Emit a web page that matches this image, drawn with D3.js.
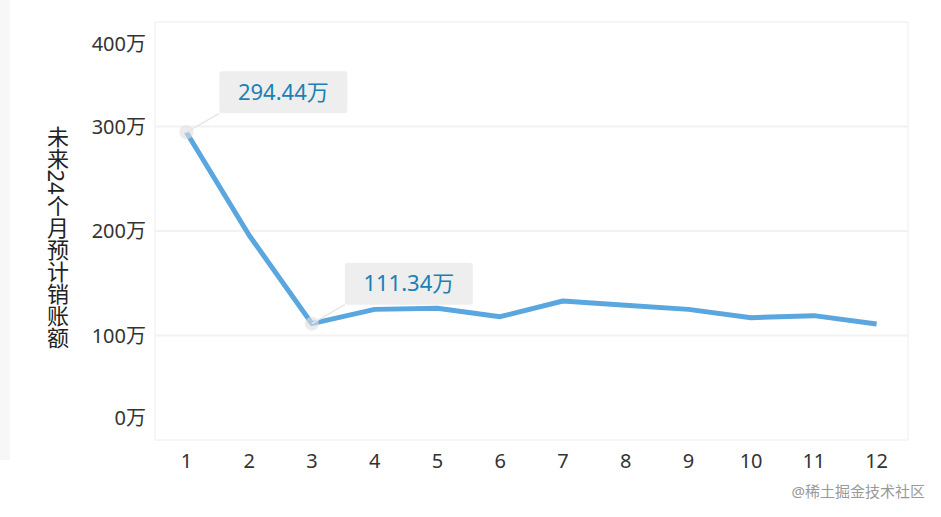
<!DOCTYPE html>
<html><head><meta charset="utf-8">
<script src="https://cdn.jsdelivr.net/npm/d3@7"></script>
<style>body{margin:0;background:#fff}svg{font-family:"Noto Sans","Noto Sans CJK SC",sans-serif}</style>
</head><body><svg id="c" width="941" height="517"></svg>
<script>
const categories = ["1","2","3","4","5","6","7","8","9","10","11","12"];
const values = [294.44,196,111.34,125,126,118,133,129,125,117,119,111];
const yTicks = [0,100,200,300,400];
const labeled = [0,2];
const svg = d3.select("#c");
const L=155,R=908,T=22,B=440;
const x = d3.scaleBand().domain(categories).range([L,R]);
const y = d3.scaleLinear().domain([0,400]).range([B,T]);
svg.append("rect").attr("x",0).attr("y",0).attr("width",10).attr("height",460).attr("fill","#f7f7f7");
svg.append("rect").attr("x",L).attr("y",T).attr("width",R-L).attr("height",B-T).attr("fill","none").attr("stroke","#eeeeee");
yTicks.slice(1,-1).forEach(t=>svg.append("line").attr("x1",L).attr("x2",R).attr("y1",y(t)).attr("y2",y(t)).attr("stroke","#f2f2f2").attr("stroke-width",2));
yTicks.forEach(t=>{
  let yy=y(t); if(t===0) yy-=22; if(t===400) yy+=22;
  svg.append("text").attr("x",146).attr("y",yy).attr("dy","0.35em").attr("text-anchor","end").attr("font-size",20).attr("fill","#333").text(t+"万");
});
categories.forEach(c=>svg.append("text").attr("x",x(c)+x.bandwidth()/2).attr("y",461).attr("dy","0.35em").attr("text-anchor","middle").attr("font-size",20).attr("fill","#333").text(c));
svg.append("text").attr("transform","translate(57,237)").attr("text-anchor","middle").style("writing-mode","vertical-rl").attr("font-size",22).attr("fill","#222").text("未来24个月预计销账额");
const cx = i=>x(categories[i])+x.bandwidth()/2;
svg.append("path").datum(values).attr("d",d3.line().x((d,i)=>cx(i)).y(d=>y(d))).attr("fill","none").attr("stroke","#5aa7e0").attr("stroke-width",5).attr("stroke-linejoin","round");
labeled.forEach(i=>{
  const px=cx(i),py=y(values[i]);
  svg.append("circle").attr("cx",px).attr("cy",py).attr("r",7).attr("fill","#ddd").attr("opacity",0.6);
  const bx=px+33,by=py-61;
  svg.append("line").attr("x1",px).attr("y1",py).attr("x2",bx).attr("y2",by+42).attr("stroke","#e6e6e6").attr("stroke-width",1.5);
  svg.append("rect").attr("x",bx).attr("y",by).attr("width",128).attr("height",42).attr("rx",3).attr("fill","#eeeeee");
  svg.append("text").attr("x",bx+64).attr("y",by+21).attr("dy","0.35em").attr("text-anchor","middle").attr("font-size",22).attr("fill","#1a80b6").text(values[i].toFixed(2)+"万");
});
svg.append("text").attr("x",925).attr("y",492).attr("dy","0.35em").attr("text-anchor","end").attr("font-size",15).attr("fill","#999").text("@稀土掘金技术社区");
</script></body></html>
